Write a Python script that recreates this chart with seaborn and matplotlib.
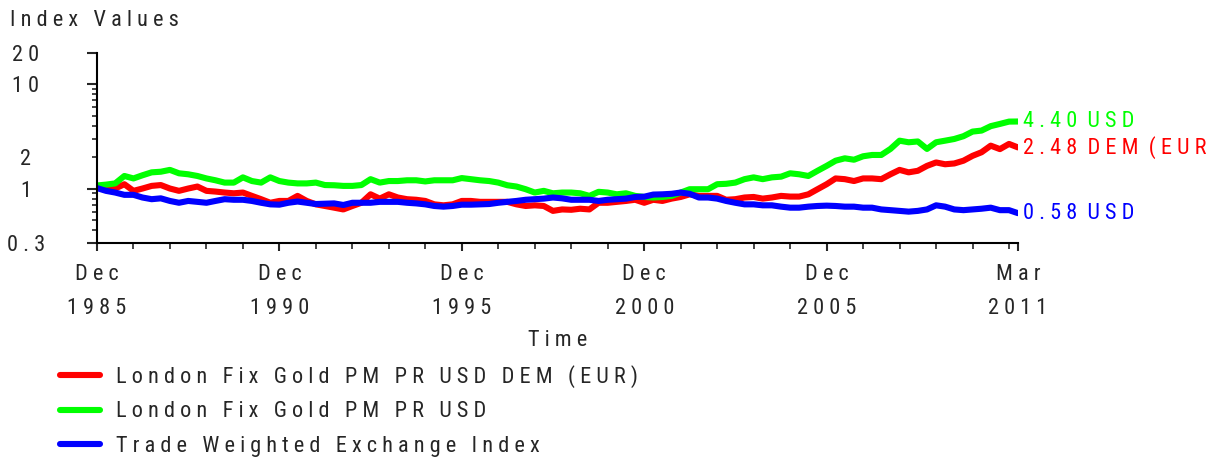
import numpy as np
import pandas as pd
import matplotlib
matplotlib.use("Agg")
import matplotlib.pyplot as plt
import matplotlib.dates as mdates
from matplotlib import font_manager
from matplotlib.ticker import FixedLocator, FixedFormatter, FuncFormatter
from matplotlib.lines import Line2D
import seaborn as sns

# Quarterly observations, Dec 1985 .. Mar 2011 (index values, log scale)
dates = pd.date_range("1985-12-01", "2011-03-01", freq="3MS")

gold_dem = [
    1.04, 1.00, 1.00, 1.10, 0.95, 1.00, 1.06, 1.08,
    1.00, 0.95, 1.00, 1.045, 0.95, 0.935, 0.915, 0.90,
    0.915, 0.85, 0.79, 0.73, 0.76, 0.76, 0.85, 0.76,
    0.705, 0.68, 0.655, 0.63, 0.68, 0.73, 0.88, 0.80,
    0.88, 0.82, 0.79, 0.78, 0.76, 0.705, 0.69, 0.705,
    0.76, 0.76, 0.745, 0.745, 0.745, 0.745, 0.705, 0.68,
    0.69, 0.68, 0.61, 0.63, 0.625, 0.64, 0.63, 0.73,
    0.73, 0.745, 0.76, 0.78, 0.73, 0.78, 0.76, 0.80,
    0.83, 0.88, 0.85, 0.85, 0.85, 0.78, 0.79, 0.82,
    0.83, 0.80, 0.82, 0.85, 0.837, 0.837, 0.88, 0.985,
    1.10, 1.25, 1.23, 1.18, 1.25, 1.25, 1.23, 1.37,
    1.51, 1.43, 1.48, 1.65, 1.78, 1.71, 1.74, 1.85,
    2.06, 2.23, 2.58, 2.39, 2.68, 2.48,
]

gold_usd = [
    1.07, 1.09, 1.12, 1.32, 1.25, 1.34, 1.43, 1.45,
    1.51, 1.40, 1.37, 1.32, 1.25, 1.20, 1.14, 1.14,
    1.28, 1.18, 1.14, 1.28, 1.18, 1.14, 1.12, 1.12,
    1.14, 1.08, 1.075, 1.06, 1.06, 1.08, 1.23, 1.14,
    1.18, 1.18, 1.20, 1.20, 1.17, 1.20, 1.20, 1.20,
    1.26, 1.23, 1.20, 1.18, 1.14, 1.075, 1.045, 0.985,
    0.915, 0.95, 0.90, 0.915, 0.915, 0.90, 0.85, 0.93,
    0.915, 0.88, 0.90, 0.85, 0.83, 0.82, 0.83, 0.85,
    0.915, 0.985, 0.985, 0.985, 1.10, 1.11, 1.14, 1.23,
    1.28, 1.23, 1.28, 1.30, 1.40, 1.37, 1.32, 1.48,
    1.65, 1.85, 1.95, 1.89, 2.04, 2.10, 2.10, 2.40,
    2.88, 2.78, 2.83, 2.40, 2.78, 2.88, 2.99, 3.18,
    3.52, 3.60, 3.97, 4.17, 4.39, 4.40,
]

trade_weighted = [
    1.01, 0.95, 0.915, 0.87, 0.87, 0.82, 0.79, 0.805,
    0.76, 0.73, 0.76, 0.745, 0.73, 0.76, 0.79, 0.78,
    0.78, 0.76, 0.73, 0.705, 0.70, 0.73, 0.75, 0.73,
    0.71, 0.715, 0.72, 0.695, 0.73, 0.73, 0.73, 0.745,
    0.745, 0.745, 0.73, 0.72, 0.705, 0.68, 0.67, 0.68,
    0.70, 0.70, 0.705, 0.71, 0.73, 0.745, 0.76, 0.78,
    0.79, 0.80, 0.82, 0.805, 0.78, 0.78, 0.78, 0.76,
    0.78, 0.79, 0.80, 0.83, 0.835, 0.875, 0.88, 0.89,
    0.915, 0.89, 0.82, 0.82, 0.80, 0.76, 0.73, 0.705,
    0.705, 0.69, 0.69, 0.67, 0.655, 0.655, 0.67, 0.68,
    0.685, 0.68, 0.67, 0.67, 0.655, 0.655, 0.63, 0.62,
    0.61, 0.60, 0.61, 0.63, 0.69, 0.67, 0.63, 0.62,
    0.63, 0.64, 0.655, 0.62, 0.62, 0.58,
]

series_names = [
    "London Fix Gold PM PR USD DEM (EUR)",
    "London Fix Gold PM PR USD",
    "Trade Weighted Exchange Index",
]
series_values = [gold_dem, gold_usd, trade_weighted]
series_colors = ["#ff0000", "#00ff00", "#0000ff"]
end_units = ["DEM (EUR)", "USD", "USD"]

y_major_ticks = [0.3, 1, 10, 20]
y_minor_ticks = [0.4, 0.5, 0.6, 0.7, 0.8, 0.9, 2, 3, 4, 5, 6, 7, 8, 9]
y_labelled = {0.3: "0.3", 1: "1", 2: "2", 10: "10", 20: "20"}
x_tick_dates = ["1985-12-01", "1990-12-01", "1995-12-01", "2000-12-01",
                "2005-12-01", "2011-03-01"]
x_tick_labels = ["Dec\n1985", "Dec\n1990", "Dec\n1995", "Dec\n2000",
                 "Dec\n2005", "Mar\n2011"]


def spaced(text, sep=" ", word_sep="   "):
    """Letter-spaced rendering used for every label on the chart."""
    return "\n".join(word_sep.join(sep.join(word) for word in line.split(" "))
                     for line in text.split("\n"))


def narrow_font():
    """Pick an installed condensed / narrow face, falling back to DejaVu Sans."""
    entries = font_manager.fontManager.ttflist
    prefs = ["Liberation Sans Narrow", "Roboto Condensed", "Open Sans Condensed",
             "DejaVu Sans", "Noto Sans", "Open Sans", "Roboto"]
    for name in prefs:
        for f in entries:
            if f.name != name or f.style != "normal":
                continue
            if f.weight not in (400, "normal", "regular", "book", "Regular"):
                continue
            if "Narrow" in name or "Condensed" in name:
                return name, "normal"
            if str(f.stretch) in ("condensed", "semi-condensed", "extra-condensed"):
                return name, str(f.stretch)
    return "DejaVu Sans", "normal"


sns.set_style("ticks")
family, stretch = narrow_font()
plt.rcParams["font.family"] = [family, "DejaVu Sans"]
plt.rcParams["font.stretch"] = stretch
FS = 16

df = pd.concat(
    [pd.DataFrame({"date": dates, "value": vals, "series": name})
     for name, vals in zip(series_names, series_values)],
    ignore_index=True,
)

W, H = 1210, 459
fig = plt.figure(figsize=(W / 100, H / 100), dpi=100)
ax = fig.add_axes([97 / W, 1 - 243 / H, (1018 - 97) / W, (243 - 53) / H])

sns.lineplot(data=df, x="date", y="value", hue="series", hue_order=series_names,
             palette=dict(zip(series_names, series_colors)), linewidth=4.4,
             legend=False, ax=ax)

ax.set_yscale("log")
ax.set_ylim(0.3, 20)
ax.set_xlim(mdates.date2num(pd.Timestamp("1985-12-01")),
            mdates.date2num(pd.Timestamp("2011-03-01")))

# y axis: long ticks at 0.3/1/10/20, short ticks elsewhere, labels centred far left
label_fmt = FuncFormatter(
    lambda v, pos: spaced(next((t for k, t in y_labelled.items() if abs(v - k) < 1e-9), "")))
ax.yaxis.set_major_locator(FixedLocator(y_major_ticks))
ax.yaxis.set_minor_locator(FixedLocator(y_minor_ticks))
ax.yaxis.set_major_formatter(label_fmt)
ax.yaxis.set_minor_formatter(label_fmt)
ax.tick_params(axis="y", which="major", length=7.2, width=1.5, pad=44, labelsize=FS)
ax.tick_params(axis="y", which="minor", length=3.6, width=1.2, pad=47.6, labelsize=FS)
for lab in ax.get_yticklabels(which="both"):
    lab.set_horizontalalignment("center")

# x axis: labelled ticks every five years plus the final month, yearly minor ticks
ax.xaxis.set_major_locator(FixedLocator(mdates.date2num(pd.to_datetime(x_tick_dates))))
ax.xaxis.set_major_formatter(FixedFormatter([spaced(t) for t in x_tick_labels]))
ax.xaxis.set_minor_locator(mdates.MonthLocator(bymonth=12))
ax.tick_params(axis="x", which="major", length=6, width=1.5, pad=9, labelsize=FS)
ax.tick_params(axis="x", which="minor", length=4, width=1.2)
for lab in ax.get_xticklabels():
    lab.set_linespacing(1.8)

ax.set_xlabel(spaced("Time"), fontsize=FS)
ax.xaxis.set_label_coords(0.5, (459 - 341 - 216) / 190)
ax.xaxis.label.set_va("center")
ax.set_ylabel("")

sns.despine(ax=ax)
for side in ("left", "bottom"):
    ax.spines[side].set_linewidth(1.5)
    ax.spines[side].set_color("black")

fig.text(10 / W, 1 - 20 / H, spaced("Index Values"), fontsize=FS, va="center", ha="left")

# value labels at the right end of each line
last = dates[-1]
for vals, color, unit in zip(series_values, series_colors, end_units):
    ax.annotate(spaced(f"{vals[-1]:.2f} {unit}", word_sep="  "), xy=(last, vals[-1]),
                xytext=(3.5, 0), textcoords="offset points", va="center", ha="left",
                color=color, fontsize=FS, annotation_clip=False)

handles = [Line2D([], [], color=c, linewidth=4.4) for c in series_colors]
fig.legend(handles, [spaced(n) for n in series_names], loc="upper left",
           bbox_to_anchor=(60 / W, 1 - 365 / H), frameon=False, fontsize=FS,
           borderpad=0, borderaxespad=0, handlelength=1.8, handletextpad=0.7,
           labelspacing=0.6)

fig.savefig("out.png", dpi=100)
